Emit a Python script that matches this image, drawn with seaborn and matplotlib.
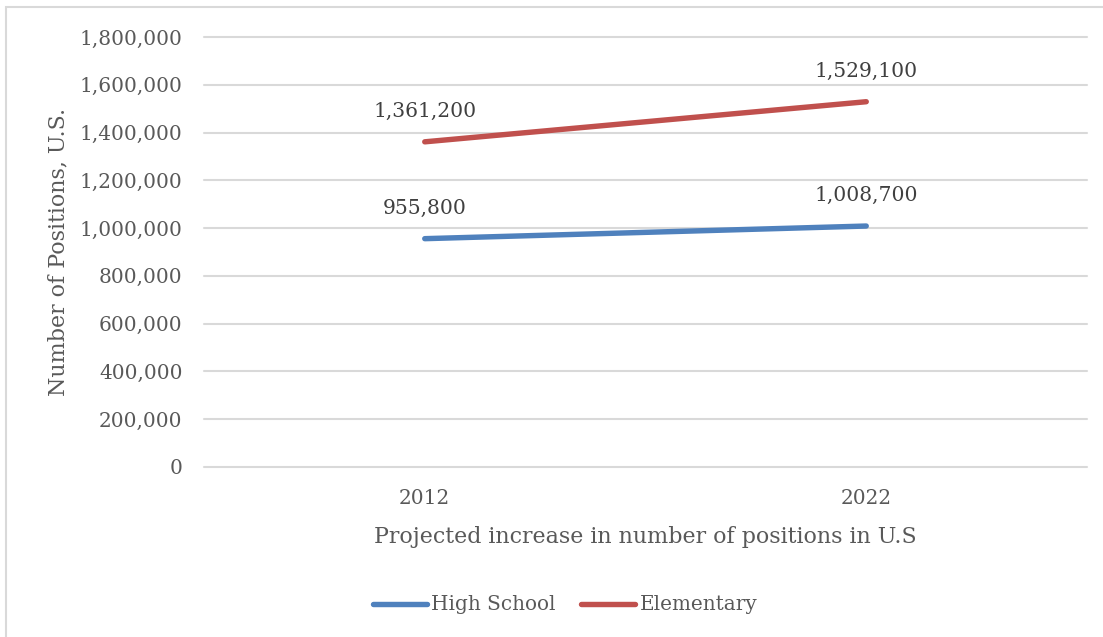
import matplotlib
matplotlib.use("Agg")
import matplotlib.pyplot as plt
import matplotlib.patches as mpatches
import seaborn as sns
import pandas as pd

# Data
years = ["2012", "2022"]
high_school = [955800, 1008700]
elementary = [1361200, 1529100]
series_names = ["High School", "Elementary"]
y_ticks = [0, 200000, 400000, 600000, 800000, 1000000, 1200000, 1400000, 1600000, 1800000]

df = pd.DataFrame({
    "Year": years * 2,
    "Positions": high_school + elementary,
    "Level": [series_names[0]] * len(years) + [series_names[1]] * len(years),
})

sns.set_theme(style="white")
plt.rcParams["font.family"] = ["DejaVu Serif"]
text_color = "#595959"
grid_color = "#D9D9D9"
palette = {"High School": "#4F81BD", "Elementary": "#C0504D"}

fig = plt.figure(figsize=(11.03, 6.37), dpi=100)
ax = fig.add_axes([204 / 1103, 1 - 467 / 637, (1087 - 204) / 1103, (467 - 37) / 637])

# Outer chart-area frame
fig.patches.append(mpatches.Rectangle((6 / 1103, -0.05), 1.2, 1 - 6.5 / 637 + 0.05,
                                      transform=fig.transFigure, fill=False,
                                      edgecolor=grid_color, linewidth=1.5, zorder=0))

sns.lineplot(data=df, x="Year", y="Positions", hue="Level", palette=palette,
             linewidth=3.9, solid_capstyle="round", ax=ax, legend=False, sort=False)

ax.set_xlim(-0.5, 1.5)
ax.set_ylim(0, 1800000)
ax.set_yticks(y_ticks)
ax.set_yticklabels([f"{v:,}" for v in y_ticks])
ax.yaxis.grid(True, color=grid_color, linewidth=1.5)
for gl in ax.get_ygridlines():
    gl.set_clip_on(False)
ax.set_axisbelow(True)
for s in ax.spines.values():
    s.set_visible(False)
ax.tick_params(axis="both", length=0, labelsize=14.5, colors=text_color)
ax.tick_params(axis="y", pad=15.5)
ax.tick_params(axis="x", pad=16)

ax.set_xlabel("Projected increase in number of positions in U.S", fontsize=15.9,
              color=text_color, labelpad=13)
ax.set_ylabel("Number of Positions, U.S.", fontsize=15.9, color=text_color, labelpad=7)

# Value labels above each point
for values in (high_school, elementary):
    for i, v in enumerate(values):
        ax.annotate(f"{v:,}", xy=(i, v), xytext=(0, 22), textcoords="offset points",
                    ha="center", va="center", fontsize=14.6, color="#404040")

handles = [plt.Line2D([], [], color=palette[n], linewidth=3.9, solid_capstyle="round")
           for n in series_names]
fig.legend(handles, series_names, loc="center", bbox_to_anchor=(565 / 1103, 1 - 605 / 637),
           ncol=2, frameon=False, fontsize=14.4, labelcolor=text_color,
           handlelength=2.7, handletextpad=0.2, columnspacing=1.3)

fig.savefig("out.png", dpi=100)
